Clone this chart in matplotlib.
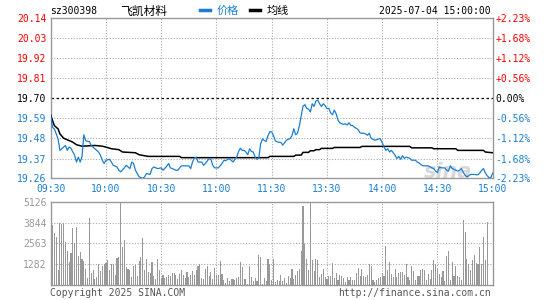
import matplotlib
matplotlib.use("Agg")
import matplotlib.pyplot as plt
from matplotlib.lines import Line2D

# ---- data ----
stock_code = "sz300398"
stock_name = "飞凯材料"
stamp = "2025-07-04 15:00:00"
prev_close = 19.70

pct_levels = [2.23, 1.68, 1.12, 0.56, 0.00, -0.56, -1.12, -1.68, -2.23]
price_labels = ["20.14", "20.03", "19.92", "19.81", "19.70", "19.59", "19.48", "19.37", "19.26"]
pct_labels = ["+2.23%", "+1.68%", "+1.12%", "+0.56%", "0.00%", "-0.56%", "-1.12%", "-1.68%", "-2.23%"]

time_pos = [0, 30, 60, 90, 120, 150, 180, 210, 240]
time_labels = ["09:30", "10:00", "10:30", "11:00", "11:30", "13:30", "14:00", "14:30", "15:00"]

price_min = [0, 1, 2, 4, 5, 7, 8, 9, 10, 11, 12, 13, 14, 15, 16, 17, 18, 19, 20, 21,
             22, 24, 26, 27, 28, 29, 30, 32, 34, 36, 37, 38, 40, 41, 43, 44, 45, 46, 48, 50,
             51, 52, 54, 55, 56, 58, 60, 61, 63, 64, 65, 66, 68, 69, 70, 71, 73, 75, 76, 77,
             78, 79, 80, 81, 82, 83, 84, 86, 87, 88, 89, 91, 92, 93, 94, 95, 97, 98, 99, 100,
             101, 102, 103, 104, 105, 106, 107, 108, 109, 110, 111, 112, 113, 114, 115, 116, 117, 118, 119, 120,
             121, 122, 123, 125, 126, 127, 128, 130, 131, 132, 133, 134, 135, 136, 137, 138, 139, 140, 141, 142,
             143, 144, 145, 146, 147, 148, 149, 150, 151, 152, 153, 154, 155, 156, 157, 158, 159, 160, 161, 162,
             163, 164, 165, 166, 167, 168, 169, 170, 171, 172, 173, 174, 175, 176, 177, 178, 179, 180, 181, 182,
             183, 184, 185, 186, 187, 188, 189, 190, 191, 192, 193, 194, 195, 196, 197, 198, 199, 200, 201, 202,
             203, 204, 205, 206, 207, 208, 209, 210, 211, 212, 213, 214, 215, 216, 217, 218, 219, 220, 221, 222,
             223, 224, 225, 226, 227, 228, 229, 230, 231, 232, 233, 234, 235, 236, 237, 238, 239, 240]
price = [19.608, 19.54, 19.532, 19.477, 19.414, 19.432, 19.441, 19.414, 19.432, 19.426,
         19.405, 19.387, 19.35, 19.377, 19.35, 19.38, 19.50, 19.468, 19.463, 19.463,
         19.441, 19.423, 19.405, 19.387, 19.36, 19.342, 19.36, 19.365, 19.332, 19.323,
         19.305, 19.296, 19.318, 19.332, 19.314, 19.35, 19.342, 19.305, 19.269, 19.26,
         19.269, 19.287, 19.282, 19.314, 19.323, 19.314, 19.318, 19.305, 19.327, 19.342,
         19.318, 19.314, 19.305, 19.305, 19.318, 19.329, 19.329, 19.329, 19.314, 19.35,
         19.372, 19.377, 19.35, 19.35, 19.35, 19.332, 19.342, 19.369, 19.365, 19.332,
         19.318, 19.318, 19.329, 19.342, 19.358, 19.358, 19.369, 19.36, 19.35, 19.365,
         19.377, 19.408, 19.426, 19.414, 19.414, 19.405, 19.39, 19.423, 19.408, 19.405,
         19.377, 19.365, 19.372, 19.45, 19.477, 19.468, 19.463, 19.495, 19.517, 19.515,
         19.494, 19.466, 19.461, 19.457, 19.443, 19.457, 19.47, 19.479, 19.494, 19.533,
         19.50, 19.508, 19.548, 19.602, 19.657, 19.665, 19.645, 19.64, 19.625, 19.67,
         19.655, 19.685, 19.69, 19.67, 19.655, 19.67, 19.66, 19.643, 19.645, 19.62,
         19.61, 19.635, 19.615, 19.58, 19.565, 19.56, 19.557, 19.56, 19.553, 19.566,
         19.551, 19.55, 19.54, 19.535, 19.527, 19.51, 19.508, 19.508, 19.505, 19.497,
         19.508, 19.48, 19.475, 19.47, 19.472, 19.477, 19.477, 19.457, 19.432, 19.414,
         19.423, 19.405, 19.414, 19.40, 19.387, 19.369, 19.381, 19.365, 19.385, 19.37,
         19.377, 19.374, 19.37, 19.36, 19.36, 19.36, 19.35, 19.345, 19.336, 19.33,
         19.329, 19.329, 19.329, 19.323, 19.318, 19.314, 19.30, 19.293, 19.323, 19.318,
         19.318, 19.318, 19.305, 19.30, 19.33, 19.314, 19.31, 19.305, 19.30, 19.305,
         19.314, 19.293, 19.278, 19.269, 19.275, 19.282, 19.282, 19.282, 19.28, 19.28,
         19.29, 19.305, 19.314, 19.29, 19.275, 19.264, 19.264, 19.29]

avg_min = [0, 1, 2, 4, 5, 7, 9, 10, 12, 14, 17, 24, 28, 30, 33, 37, 39, 46, 48, 53,
           70, 71, 118, 119, 132, 133, 136, 137, 140, 141, 143, 144, 146, 147, 153, 154,
           168, 169, 195, 196, 207, 208, 220, 221, 235, 236, 240]
avg_price = [19.608, 19.577, 19.55, 19.532, 19.505, 19.481, 19.472, 19.468, 19.459, 19.445,
             19.437, 19.441, 19.437, 19.432, 19.423, 19.418, 19.405, 19.401, 19.39, 19.381,
             19.381, 19.374, 19.374, 19.381, 19.381, 19.388, 19.388, 19.403, 19.403, 19.412,
             19.412, 19.418, 19.418, 19.425, 19.425, 19.43, 19.43, 19.436, 19.436, 19.428,
             19.428, 19.423, 19.423, 19.414, 19.414, 19.405, 19.401]

vol_ticks = [1282, 2563, 3844, 5126]
volume = [535, 3700, 3200, 2950, 950, 3810, 3770, 3810, 2640, 2110,
          1420, 1970, 3500, 2580, 3560, 1760, 2030, 1600, 1460, 990,
          440, 4120, 740, 940, 370, 490, 1290, 880, 1150, 1290,
          1350, 1560, 940, 1290, 1290, 640, 1660, 1720, 5126, 2310,
          2770, 1110, 1000, 940, 490, 1150, 1250, 530, 1460, 1720,
          2890, 940, 1600, 800, 740, 1420, 530, 370, 1600, 940,
          430, 600, 430, 490, 600, 530, 740, 740, 600, 370,
          680, 940, 640, 430, 800, 510, 640, 880, 640, 940,
          1150, 1290, 430, 370, 990, 1150, 530, 800, 390, 1040,
          600, 640, 1500, 680, 290, 120, 430, 220, 370, 370,
          330, 430, 490, 1420, 1110, 370, 390, 60, 1190, 490,
          270, 430, 220, 1820, 1720, 60, 430, 270, 1600, 1290,
          300,
          1600, 180, 330, 270, 640, 220, 430, 120, 530, 430,
          990, 370, 600, 880, 1000, 2110, 4890, 2520, 1600, 940,
          5040, 1560, 880, 1600, 1560, 490, 680, 1000, 490, 370,
          530, 560, 1350, 430, 740, 330, 600, 530, 430, 160,
          490, 330, 490, 290, 330, 740, 1040, 570, 990, 570,
          490, 640, 1290, 1150, 330, 180, 330, 430, 490, 740,
          550, 2410, 940, 1420, 680, 490, 1000, 490, 740, 800,
          800, 600, 1290, 490, 330, 1190, 880, 330, 570, 570,
          940, 990, 940, 330, 680, 390, 940, 1560, 1290, 990,
          680, 490, 880, 270, 1800, 2110, 330, 1420, 570, 1190,
          530, 490, 330, 4000, 3250, 1600, 1290, 940, 1560, 1860,
          1350, 1310, 2330, 1290, 2950, 1560, 3850]

# ---- style ----
W, H = 545, 300
RED = "#ff0000"
BLUE = "#1a7fd0"
GREY = "#999999"
MONO = ["DejaVu Sans Mono", "Noto Sans CJK SC"]
CJK = ["Noto Sans CJK SC", "DejaVu Sans"]
FS = 7


def px(x):
    return x / W


def py(y):
    return 1 - y / H


def level_colour(p):
    if p > 0:
        return RED
    if p < 0:
        return BLUE
    return "black"


def grid_style(ax):
    for s in ax.spines.values():
        s.set_color(GREY)
        s.set_linewidth(1.0)
    ax.tick_params(length=0, pad=3, labelsize=FS)
    for t in time_pos[1:-1]:
        ax.axvline(t, color="#aaaaaa", lw=0.8, ls=(0, (1, 1.5)), zorder=0)


fig = plt.figure(figsize=(W / 100, H / 100), dpi=100)
fig.patch.set_facecolor("white")

# price panel
ax = fig.add_axes([px(50.7), py(178.3), px(492.7) - px(50.7), py(18.3) - py(178.3)])
grid_style(ax)
levels = [prev_close * (1 + p / 100) for p in pct_levels]
ax.set_ylim(levels[-1], levels[0])
ax.set_xlim(0, 240)
for lv, p in zip(levels[1:-1], pct_levels[1:-1]):
    if p == 0:
        ax.axhline(lv, color="black", lw=0.9, ls=(0, (2, 2)), zorder=1)
    else:
        ax.axhline(lv, color="#aaaaaa", lw=0.8, ls=(0, (1, 1.5)), zorder=0)

ax.text(216, 19.295, "sina", fontsize=15, fontweight="bold", style="italic",
        color="#d8d8d8", ha="center", va="center", zorder=1, family="DejaVu Sans")

ax.plot(avg_min, avg_price, color="black", lw=1.1, zorder=3)
ax.plot(price_min, price, color=BLUE, lw=0.9, zorder=4)

ax.set_yticks(levels)
ax.set_yticklabels(price_labels, family=MONO)
for lab, p in zip(ax.get_yticklabels(), pct_levels):
    lab.set_color(level_colour(p))
ax.set_xticks(time_pos)
ax.set_xticklabels(time_labels, family=MONO, color=BLUE)
ax.tick_params(axis="x", pad=4)

ax2 = ax.twinx()
ax2.set_ylim(levels[-1], levels[0])
ax2.set_yticks(levels)
ax2.set_yticklabels(pct_labels, family=MONO)
ax2.tick_params(length=0, pad=2, labelsize=FS)
for lab, p in zip(ax2.get_yticklabels(), pct_levels):
    lab.set_color(level_colour(p))
for s in ax2.spines.values():
    s.set_visible(False)

# volume panel
vax = fig.add_axes([px(50.7), py(285), px(492.7) - px(50.7), py(201.7) - py(285)])
grid_style(vax)
vax.set_xlim(0, 240)
vax.set_ylim(0, vol_ticks[-1])
for v in vol_ticks[:-1]:
    vax.axhline(v, color="#aaaaaa", lw=0.8, ls=(0, (1, 1.5)), zorder=0)
vax.bar(range(len(volume)), volume, width=0.6, color=GREY, linewidth=0, zorder=2)
vax.set_yticks(vol_ticks)
vax.set_yticklabels([str(v) for v in vol_ticks], family=MONO, color=GREY)
vax.set_xticks([])

# header
fig.text(px(50), py(11), stock_code, family=MONO, fontsize=FS, va="center")
fig.text(px(120), py(11), stock_name, family=CJK, fontsize=8.5, va="center")
fig.add_artist(Line2D([px(200), px(210)], [py(9.5), py(9.5)], color=BLUE, lw=2.5))
fig.text(px(217), py(11), "价格", family=CJK, fontsize=8, color=BLUE, va="center")
fig.add_artist(Line2D([px(250), px(260)], [py(9.5), py(9.5)], color="black", lw=2.5))
fig.text(px(267), py(11), "均线", family=CJK, fontsize=8, color="black", va="center")
fig.text(px(491), py(11), stamp, family=MONO, fontsize=FS, ha="right", va="center")

# footer
fig.text(px(50), py(293), "Copyright 2025 SINA.COM", family=MONO, fontsize=FS,
         color="#555555", va="center")
fig.text(px(491), py(293), "http://finance.sina.com.cn", family=MONO, fontsize=FS,
         color="#555555", ha="right", va="center")

fig.savefig("out.png", dpi=100)
